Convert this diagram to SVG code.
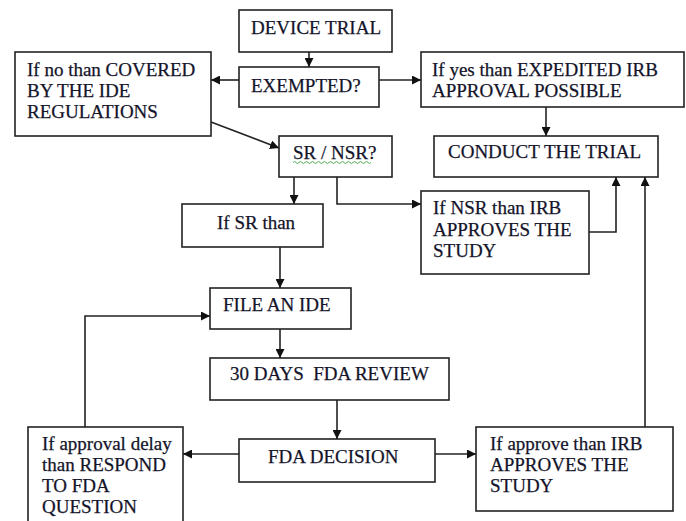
<svg xmlns="http://www.w3.org/2000/svg" width="686" height="521" viewBox="0 0 686 521">
  <style>
    .box { fill: #ffffff; stroke: #222222; stroke-width: 1.6; }
    .lbl { font-family: "Liberation Serif", "Times New Roman", serif; font-size: 19px; fill: #14142a; stroke: #14142a; stroke-width: 0.25; white-space: pre; }
    .wire { fill: none; stroke: #222222; stroke-width: 1.6; marker-end: url(#arrow); }
  </style>
  <defs>
    <marker id="arrow" markerUnits="userSpaceOnUse" markerWidth="9" markerHeight="9" viewBox="0 0 10 10" refX="10" refY="5" orient="auto">
      <path d="M0,0 L10,5 L0,10 z" fill="#111111"/>
    </marker>
  </defs>
  <rect width="686" height="521" fill="#ffffff"/>

  <g id="connectors">
    <path class="wire" d="M309,52 V67"/>
    <path class="wire" d="M239,80 H211"/>
    <path class="wire" d="M379,80 H421"/>
    <path class="wire" d="M211,122 L279,148"/>
    <path class="wire" d="M546,107 V136"/>
    <path class="wire" d="M294,177 V204"/>
    <path class="wire" d="M337,177 V204 H421"/>
    <path class="wire" d="M589,232 H616 V177"/>
    <path class="wire" d="M280,247 V288"/>
    <path class="wire" d="M280,329 V358"/>
    <path class="wire" d="M337,400 V439"/>
    <path class="wire" d="M239,454 H183"/>
    <path class="wire" d="M435,454 H476"/>
    <path class="wire" d="M85,427 V316 H210"/>
    <path class="wire" d="M645,427 V177"/>
  </g>

  <g id="device-trial">
    <rect class="box" x="239" y="10" width="153" height="42"/>
    <text class="lbl" x="251" y="34">DEVICE TRIAL</text>
  </g>

  <g id="exempted">
    <rect class="box" x="239" y="67" width="140" height="40"/>
    <text class="lbl" x="251" y="92">EXEMPTED?</text>
  </g>

  <g id="covered-by-ide">
    <rect class="box" x="15" y="52" width="196" height="84"/>
    <text class="lbl" x="27" y="76">If no than COVERED</text>
    <text class="lbl" x="27" y="97">BY THE IDE</text>
    <text class="lbl" x="27" y="118">REGULATIONS</text>
  </g>

  <g id="expedited-irb">
    <rect class="box" x="421" y="52" width="263" height="55"/>
    <text class="lbl" x="432" y="76">If yes than EXPEDITED IRB</text>
    <text class="lbl" x="432" y="97">APPROVAL POSSIBLE</text>
  </g>

  <g id="conduct-trial">
    <rect class="box" x="434" y="136" width="224" height="41"/>
    <text class="lbl" x="448" y="158">CONDUCT THE TRIAL</text>
  </g>

  <g id="sr-nsr">
    <rect class="box" x="279" y="136" width="113" height="41"/>
    <text class="lbl" x="293" y="159">SR / NSR?</text>
    <!-- spell-check squiggle under the label -->
    <path d="M293,162.5 q1.5,-2 3,0 t3,0 t3,0 t3,0 t3,0 t3,0 t3,0 t3,0 t3,0 t3,0 t3,0 t3,0 t3,0 t3,0 t3,0 t3,0 t3,0 t3,0 t3,0 t3,0 t3,0 t3,0 t3,0 t3,0 t3,0 t3,0" fill="none" stroke="#3aa33a" stroke-width="0.9"/>
  </g>

  <g id="if-sr">
    <rect class="box" x="182" y="204" width="141" height="43"/>
    <text class="lbl" x="217" y="229">If SR than</text>
  </g>

  <g id="nsr-irb">
    <rect class="box" x="421" y="191" width="168" height="83"/>
    <text class="lbl" x="433" y="214">If NSR than IRB</text>
    <text class="lbl" x="433" y="236">APPROVES THE</text>
    <text class="lbl" x="433" y="257">STUDY</text>
  </g>

  <g id="file-ide">
    <rect class="box" x="210" y="288" width="141" height="41"/>
    <text class="lbl" x="223" y="311">FILE AN IDE</text>
  </g>

  <g id="fda-review">
    <rect class="box" x="210" y="358" width="239" height="42"/>
    <text class="lbl" x="230" y="380">30 DAYS  FDA REVIEW</text>
  </g>

  <g id="fda-decision">
    <rect class="box" x="239" y="439" width="196" height="43"/>
    <text class="lbl" x="268" y="463">FDA DECISION</text>
  </g>

  <g id="approval-delay">
    <rect class="box" x="28" y="427" width="155" height="105"/>
    <text class="lbl" x="42" y="450">If approval delay</text>
    <text class="lbl" x="42" y="471">than RESPOND</text>
    <text class="lbl" x="42" y="492">TO FDA</text>
    <text class="lbl" x="42" y="513">QUESTION</text>
  </g>

  <g id="approve-irb">
    <rect class="box" x="476" y="427" width="197" height="84"/>
    <text class="lbl" x="490" y="450">If approve than IRB</text>
    <text class="lbl" x="490" y="471">APPROVES THE</text>
    <text class="lbl" x="490" y="492">STUDY</text>
  </g>
</svg>
